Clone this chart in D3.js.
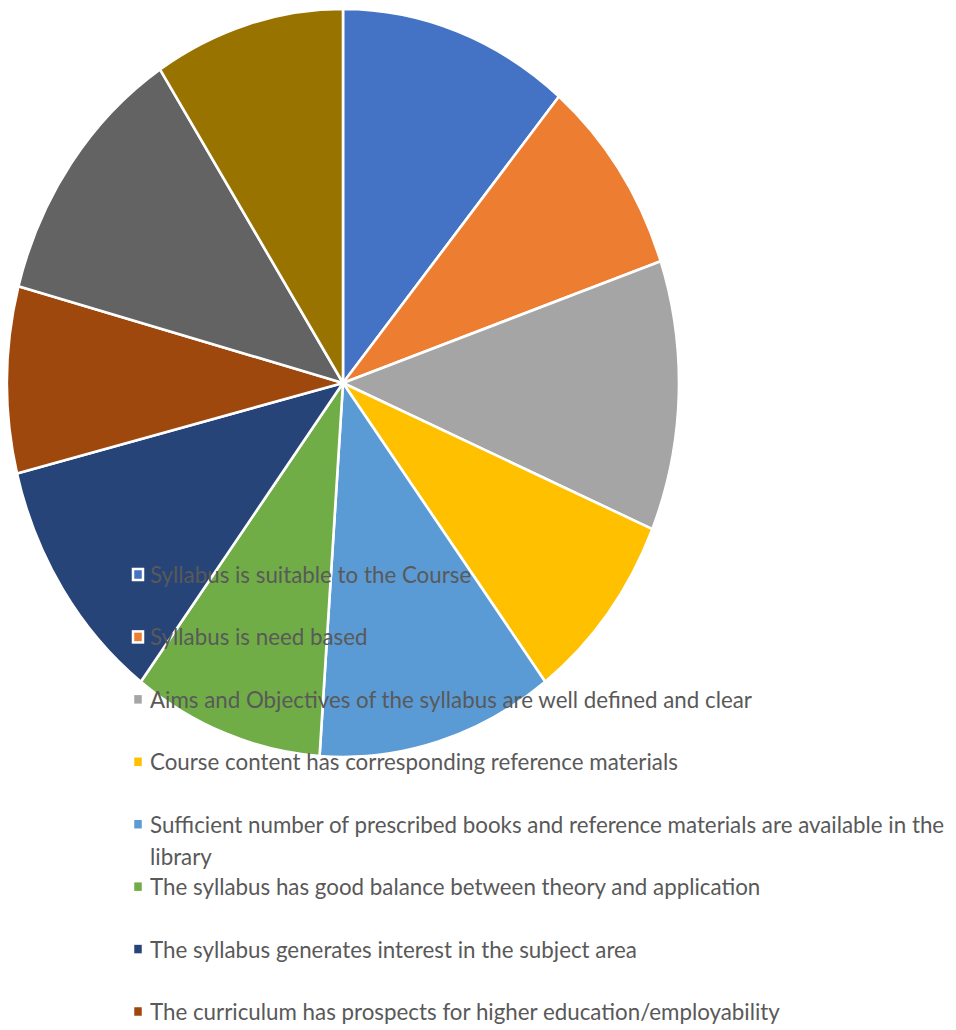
<!DOCTYPE html>
<html>
<head>
<meta charset="utf-8">
<script src="https://cdn.jsdelivr.net/npm/d3@7"></script>
<style>
  html, body { margin: 0; padding: 0; background: #fff; }
  svg { display: block; }
</style>
</head>
<body>
<svg id="chart" width="956" height="1030"></svg>
<script>
// ---- data ----
const categories = [
  "Syllabus is suitable to the Course",
  "Syllabus is need based",
  "Aims and Objectives of the syllabus are well defined and clear",
  "Course content has corresponding reference materials",
  "Sufficient number of prescribed books and reference materials are available in the library",
  "The syllabus has good balance between theory and application",
  "The syllabus generates interest in the subject area",
  "The curriculum has prospects for higher education/employability",
  null, // legend entry not visible in the picture
  null  // legend entry not visible in the picture
];
const values = [40, 31, 42, 30, 41, 33, 39, 29, 42, 33];
const colors = ["#4472C4", "#ED7D31", "#A5A5A5", "#FFC000", "#5B9BD5",
                "#70AD47", "#264478", "#9E480E", "#636363", "#997300"];

// ---- layout ----
const W = 956, H = 1030;
const cx = 343, cy = 383, rx = 336, ry = 374;
const svg = d3.select("#chart");

const data = values.map((v, i) => ({ label: categories[i], value: v, color: colors[i] }));

const pie = d3.pie().sort(null).value(d => d.value);
const arc = d3.arc().innerRadius(0).outerRadius(rx);

const pg = svg.append("g")
  .attr("transform", `translate(${cx},${cy}) scale(1,${ry / rx})`);

pg.selectAll("path")
  .data(pie(data))
  .join("path")
  .attr("d", arc)
  .attr("fill", d => d.data.color)
  .attr("stroke", "#fff")
  .attr("stroke-width", 2.6)
  .attr("stroke-linejoin", "round")
  .attr("vector-effect", "non-scaling-stroke");

// ---- legend ----
const legendItems = data.filter(d => d.label);
const textX = 150, markX = 133, markSize = 10;
const rowY = d3.scaleLinear().domain([0, 7]).range([583, 1020]);
const fontFamily = "Lato, 'Open Sans', sans-serif";

// fit font size so the longest single line matches the reference width
const probe = svg.append("text")
  .attr("font-family", fontFamily).attr("font-size", 20)
  .text(categories[2]);
const probeW = probe.node().getComputedTextLength();
probe.remove();
const fontSize = 20 * 602 / probeW;

const lg = svg.append("g");
const rows = lg.selectAll("g.row").data(legendItems).join("g")
  .attr("class", "row")
  .attr("transform", (d, i) => `translate(0,${rowY(i)})`);

rows.append("rect")
  .attr("x", markX).attr("y", -14)
  .attr("width", markSize).attr("height", markSize + 1)
  .attr("fill", d => d.color)
  .attr("stroke", "#fff").attr("stroke-width", 2.5);

const maxW = W - textX - 2;
rows.each(function(d) {
  const t = d3.select(this).append("text")
    .attr("x", textX).attr("y", 0)
    .attr("font-family", fontFamily)
    .attr("font-size", fontSize)
    .attr("fill", "#595959");
  const words = d.label.split(" ");
  let line = [];
  let tspan = t.append("tspan").attr("x", textX).attr("dy", 0);
  let lineNo = 0;
  for (const w of words) {
    line.push(w);
    tspan.text(line.join(" "));
    if (tspan.node().getComputedTextLength() > maxW && line.length > 1) {
      line.pop();
      tspan.text(line.join(" "));
      line = [w];
      lineNo++;
      tspan = t.append("tspan").attr("x", textX).attr("dy", 32).text(w);
    }
  }
});
</script>
</body>
</html>
